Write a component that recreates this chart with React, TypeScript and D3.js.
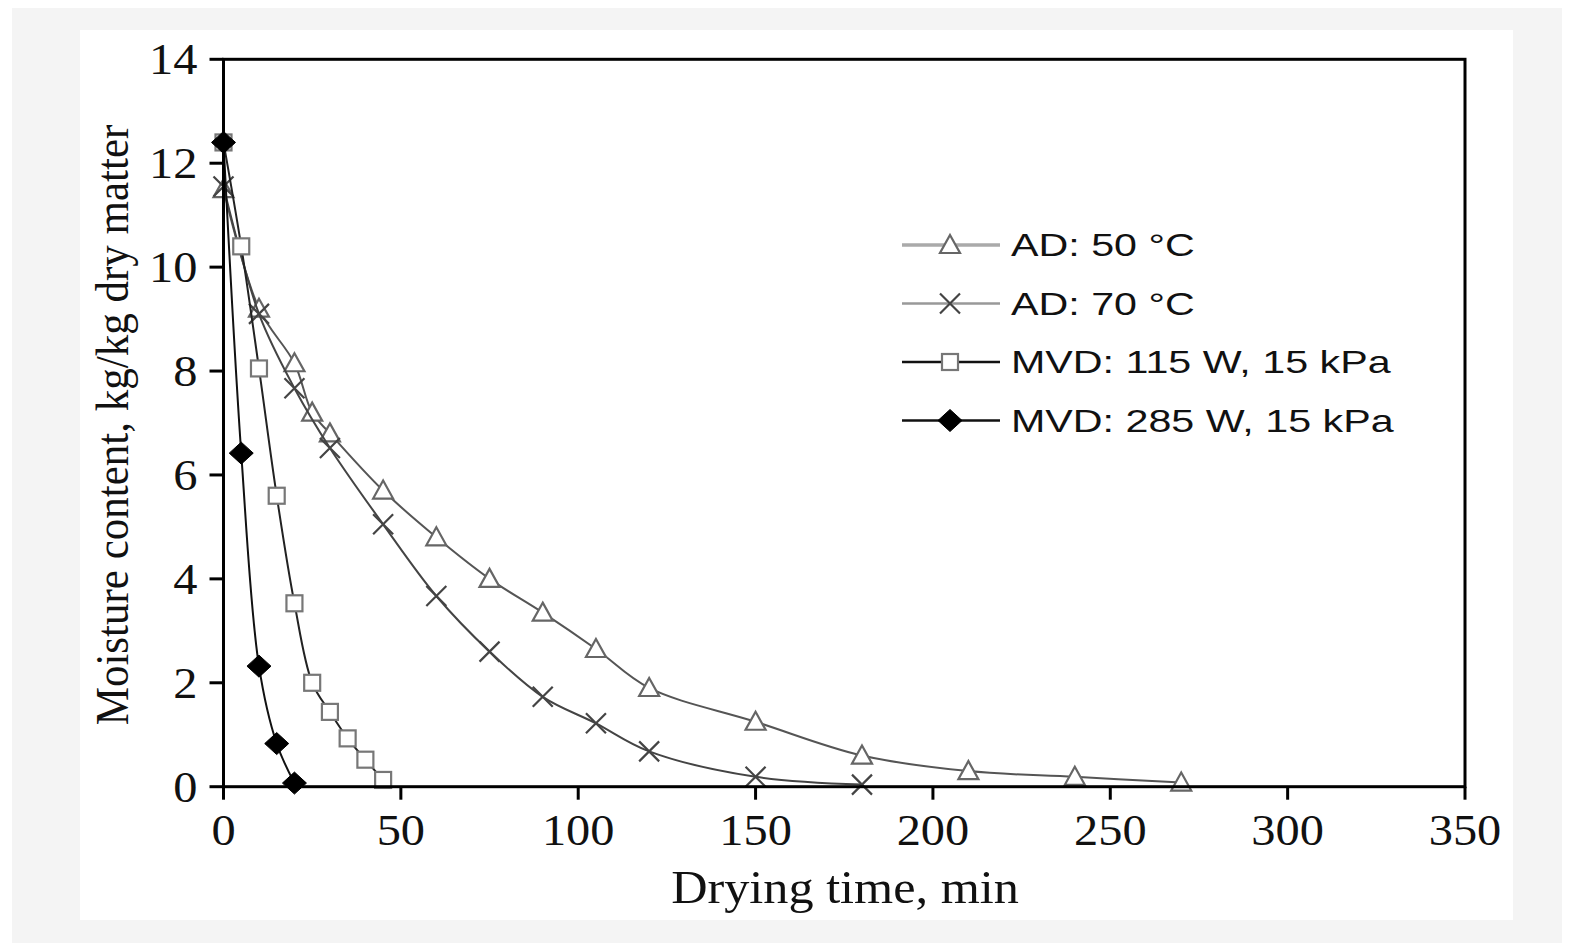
import React from "react";
import * as d3 from "d3";

const ad50Time = [0, 10, 20, 25, 30, 45, 60, 75, 90, 105, 120, 150, 180, 210, 240, 270];
const ad50Moist = [11.5, 9.2, 8.15, 7.2, 6.8, 5.7, 4.8, 4.0, 3.35, 2.65, 1.9, 1.25, 0.6, 0.3, 0.19, 0.08];

const ad70Time = [0, 10, 20, 30, 45, 60, 75, 90, 105, 120, 150, 180];
const ad70Moist = [11.55, 9.1, 7.67, 6.52, 5.05, 3.67, 2.6, 1.73, 1.22, 0.68, 0.19, 0.04];

const mvd115Time = [0, 5, 10, 15, 20, 25, 30, 35, 40, 45];
const mvd115Moist = [12.4, 10.4, 8.05, 5.6, 3.53, 2.0, 1.44, 0.93, 0.52, 0.13];

const mvd285Time = [0, 5, 10, 15, 20];
const mvd285Moist = [12.4, 6.42, 2.32, 0.83, 0.07];

const xTicks = [0, 50, 100, 150, 200, 250, 300, 350];
const yTicks = [0, 2, 4, 6, 8, 10, 12, 14];

const legendLabels = ["AD: 50 °C", "AD: 70 °C", "MVD: 115 W, 15 kPa", "MVD: 285 W, 15 kPa"];

const serif = "'Liberation Serif', 'Times New Roman', serif";
const sans = "'Liberation Sans', Arial, sans-serif";

const Marker = ({ kind, x, y }: { kind: string; x: number; y: number }) => {
  if (kind === "tri") {
    return <path d={`M${x},${y - 10}L${x + 10},${y + 8}L${x - 10},${y + 8}Z`} fill="#fff" stroke="#666" strokeWidth={2.2} />;
  }
  if (kind === "x") {
    return <path d={`M${x - 10},${y - 10}L${x + 10},${y + 10}M${x + 10},${y - 10}L${x - 10},${y + 10}`} stroke="#444" strokeWidth={2.2} />;
  }
  if (kind === "sq") {
    return <rect x={x - 8} y={y - 8} width={16} height={16} fill="#fff" stroke="#777" strokeWidth={2.2} />;
  }
  return <path d={`M${x},${y - 11}L${x + 12},${y}L${x},${y + 11}L${x - 12},${y}Z`} fill="#000" stroke="#000" strokeWidth={1} />;
};

export default function App() {
  const left = 223.5, right = 1465, top = 59.3, bottom = 786.7;

  const x = d3.scaleLinear().domain([0, 350]).range([left, right]);
  const y = d3.scaleLinear().domain([0, 14]).range([bottom, top]);

  const line = d3
    .line<[number, number]>()
    .x((d) => x(d[0]))
    .y((d) => y(d[1]))
    .curve(d3.curveCatmullRom.alpha(0.5));

  const series = [
    { t: ad50Time, m: ad50Moist, kind: "tri", color: "#555", legColor: "#aaa", legW: 3.5 },
    { t: ad70Time, m: ad70Moist, kind: "x", color: "#444", legColor: "#999", legW: 2.5 },
    { t: mvd115Time, m: mvd115Moist, kind: "sq", color: "#222", legColor: "#111", legW: 2.5 },
    { t: mvd285Time, m: mvd285Moist, kind: "dia", color: "#111", legColor: "#111", legW: 2.5 },
  ];

  return (
    <svg width={1574} height={951} style={{ position: "absolute", left: 0, top: 0 }}>
      <rect x={0} y={0} width={1574} height={951} fill="#fff" />
      <rect x={12} y={8} width={1550} height={935} fill="#f4f4f4" />
      <rect x={80} y={30} width={1433} height={890} fill="#fff" />

      {/* lines and markers */}
      {series.map((s, i) => {
        const pts = s.t.map((t, j) => [t, s.m[j]] as [number, number]);
        return (
          <g key={i}>
            <path d={line(pts) || ""} fill="none" stroke={s.color} strokeWidth={2} />
            {pts.map((p, j) => (
              <Marker key={j} kind={s.kind} x={x(p[0])} y={y(p[1])} />
            ))}
          </g>
        );
      })}

      {/* frame */}
      <rect x={left} y={top} width={right - left} height={bottom - top} fill="none" stroke="#000" strokeWidth={3} />

      {/* y axis */}
      {yTicks.map((t) => (
        <g key={t}>
          <line x1={left - 14} x2={left} y1={y(t)} y2={y(t)} stroke="#000" strokeWidth={3} />
          <text
            transform={`translate(${left - 26},${y(t) + 15}) scale(1.1,1)`}
            textAnchor="end"
            fontFamily={serif}
            fontSize={44}
            fill="#111"
          >
            {t}
          </text>
        </g>
      ))}

      {/* x axis */}
      {xTicks.map((t) => (
        <g key={t}>
          <line x1={x(t)} x2={x(t)} y1={bottom} y2={bottom + 13} stroke="#000" strokeWidth={3} />
          <text
            transform={`translate(${x(t)},${bottom + 58}) scale(1.1,1)`}
            textAnchor="middle"
            fontFamily={serif}
            fontSize={44}
            fill="#111"
          >
            {t}
          </text>
        </g>
      ))}

      <text
        transform={`translate(845,903) scale(1.07,1)`}
        textAnchor="middle"
        fontFamily={serif}
        fontSize={47}
        fill="#111"
      >
        Drying time, min
      </text>
      <text
        transform={`translate(128,425) rotate(-90) scale(1,1.08)`}
        textAnchor="middle"
        fontFamily={serif}
        fontSize={43}
        fill="#111"
      >
        Moisture content, kg/kg dry matter
      </text>

      {/* legend */}
      {series.map((s, i) => {
        const ly = 245 + i * 58.5;
        return (
          <g key={i}>
            <line x1={902} x2={1000} y1={ly} y2={ly} stroke={s.legColor} strokeWidth={s.legW} />
            <Marker kind={s.kind} x={950} y={ly} />
            <text
              transform={`translate(1011,${ly + 11}) scale(1.33,1)`}
              fontFamily={sans}
              fontSize={31}
              fill="#111"
            >
              {legendLabels[i]}
            </text>
          </g>
        );
      })}
    </svg>
  );
}
